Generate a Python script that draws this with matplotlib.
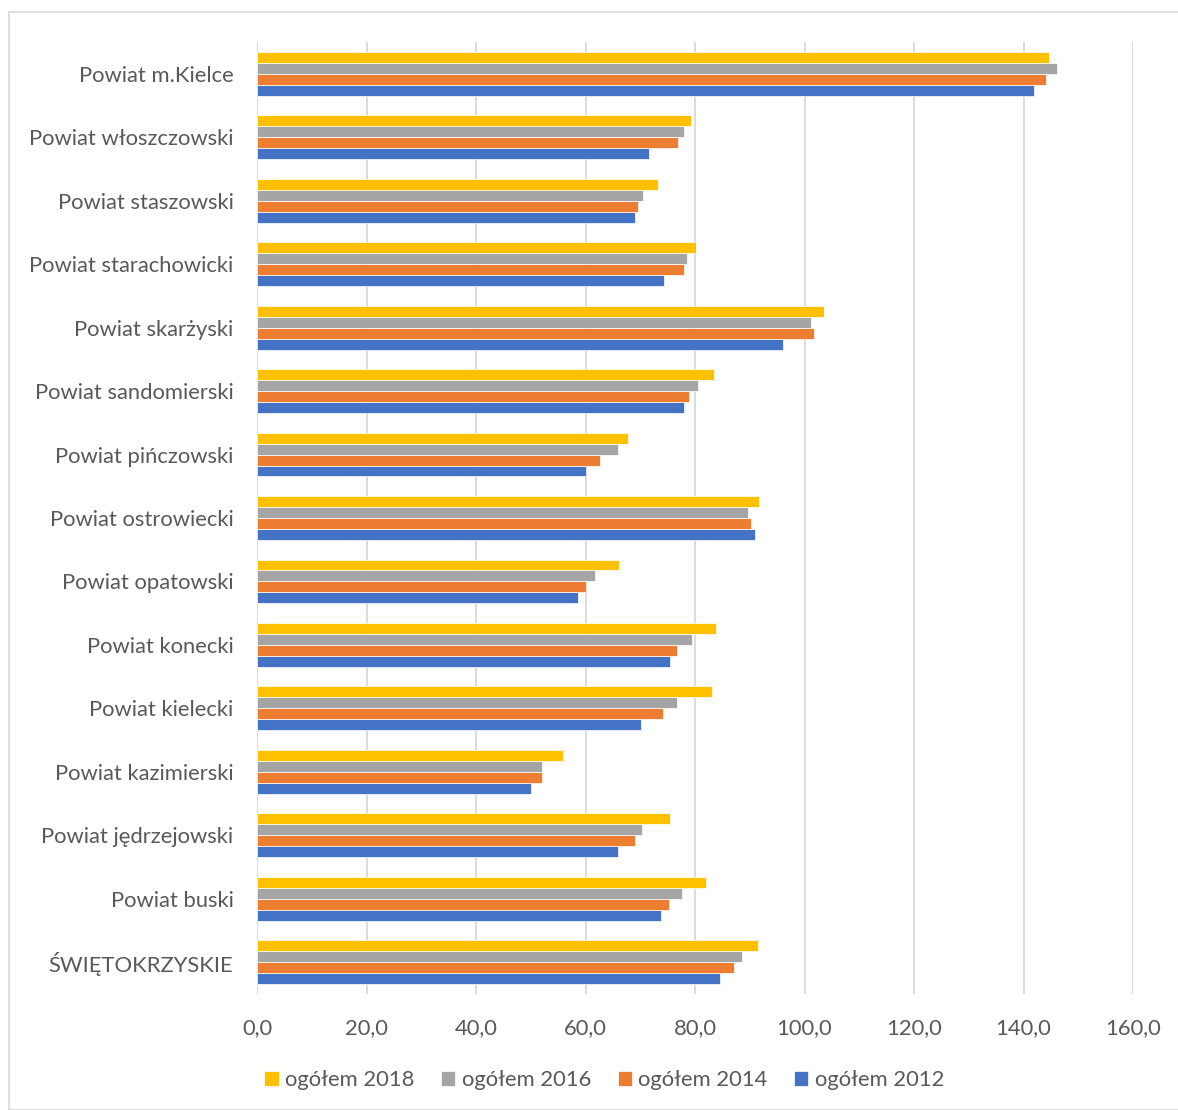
import numpy as np
import matplotlib
matplotlib.use('Agg')
from matplotlib import pyplot as plt
from matplotlib.patches import Rectangle

categories = ['ŚWIĘTOKRZYSKIE', 'Powiat buski', 'Powiat jędrzejowski', 'Powiat kazimierski',
              'Powiat kielecki', 'Powiat konecki', 'Powiat opatowski', 'Powiat ostrowiecki',
              'Powiat pińczowski', 'Powiat sandomierski', 'Powiat skarżyski',
              'Powiat starachowicki', 'Powiat staszowski', 'Powiat włoszczowski', 'Powiat m.Kielce']

v2018 = [91.5, 82.0, 75.5, 55.8, 83.1, 83.8, 66.2, 91.7, 67.7, 83.5, 103.6, 80.2, 73.3, 79.3, 144.7]
v2016 = [88.5, 77.6, 70.4, 52.1, 76.8, 79.5, 61.8, 89.7, 65.9, 80.5, 101.1, 78.5, 70.5, 78.0, 146.2]
v2014 = [87.1, 75.3, 69.0, 52.0, 74.2, 76.7, 60.0, 90.2, 62.7, 78.9, 101.7, 77.9, 69.5, 76.9, 144.2]
v2012 = [84.6, 73.8, 66.0, 50.0, 70.2, 75.4, 58.7, 91.0, 60.0, 77.9, 96.1, 74.3, 69.0, 71.6, 141.9]

series = [('ogółem 2012', v2012, '#4472C4'),
          ('ogółem 2014', v2014, '#ED7D31'),
          ('ogółem 2016', v2016, '#A5A5A5'),
          ('ogółem 2018', v2018, '#FFC000')]

plt.rcParams['font.family'] = ['Lato', 'DejaVu Sans']
txt = '#595959'

fig = plt.figure(figsize=(11.78, 11.10), dpi=100)
ax = fig.add_axes([257/1178, 116/1110, 876/1178, 952/1110])

y = np.arange(len(categories))
h = 0.173
bars = {}
for i, (name, vals, col) in enumerate(series):
    bars[name] = ax.barh(y + (i - 1.5) * h, vals, height=h, color=col,
                         edgecolor='white', linewidth=0.5, label=name, zorder=3)

ax.set_xlim(0, 160)
ax.set_ylim(-0.5, len(categories) - 0.5)
ax.set_xticks(np.arange(0, 161, 20))
ax.set_xticklabels([('%.1f' % t).replace('.', ',') for t in np.arange(0, 161, 20)])
ax.set_yticks(y)
ax.set_yticklabels(categories)
ax.grid(axis='x', color='#d9d9d9', linewidth=1.3, zorder=0)
for s in ax.spines.values():
    s.set_visible(False)
ax.tick_params(axis='both', length=0, colors=txt, labelsize=15.8)
ax.tick_params(axis='x', pad=17)
ax.tick_params(axis='y', pad=17)

order = ['ogółem 2018', 'ogółem 2016', 'ogółem 2014', 'ogółem 2012']
leg = fig.legend([bars[n] for n in order], order, loc='center', bbox_to_anchor=(0.513, 1 - 1080/1110),
                 ncol=4, frameon=False, fontsize=15.8, handlelength=0.65, handleheight=0.65,
                 handletextpad=0.3, columnspacing=1.2)
for t in leg.get_texts():
    t.set_color(txt)

fig.patches.append(Rectangle((9/1178, 0), 1.2, 1 - 12/1110, transform=fig.transFigure,
                             fill=False, edgecolor='#d9d9d9', linewidth=1.2))

fig.savefig('out.png', dpi=100)
